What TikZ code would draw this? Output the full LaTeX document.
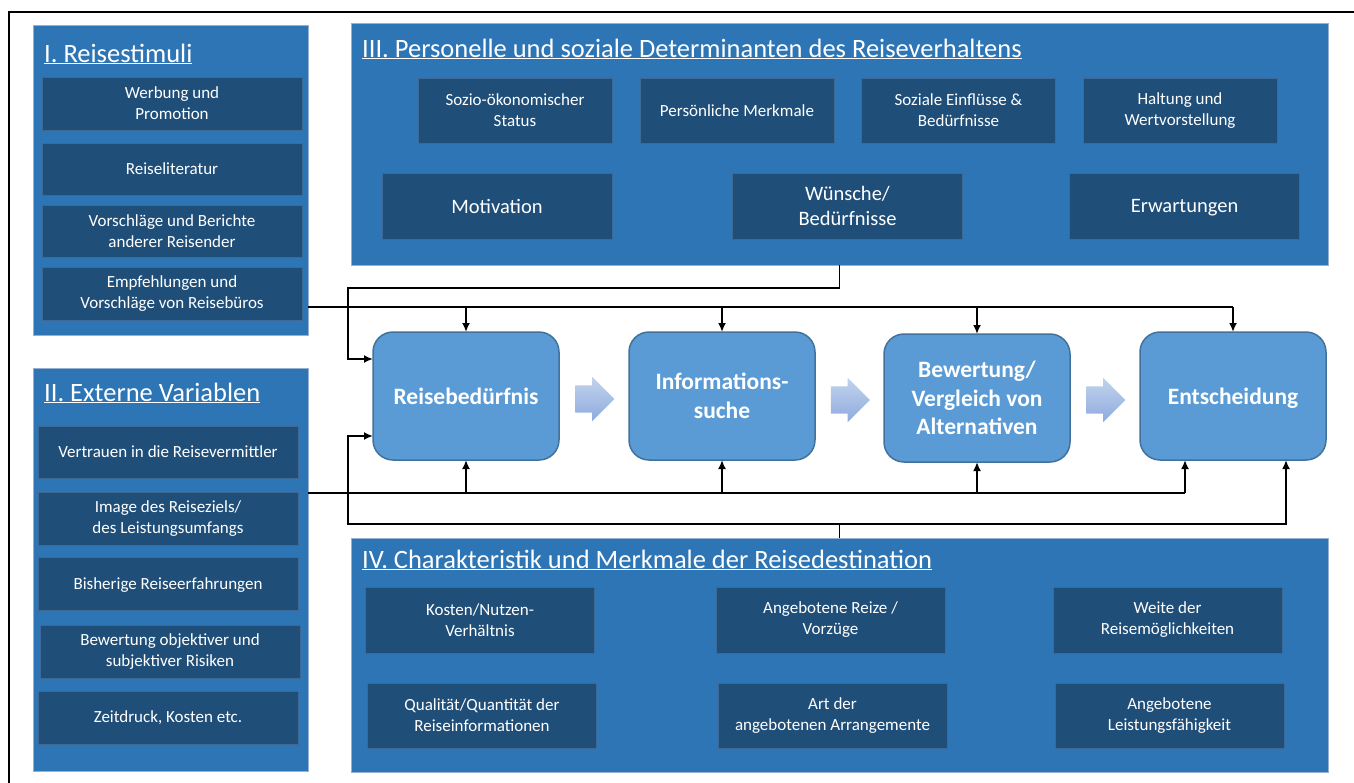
\documentclass[tikz,border=0pt]{standalone}
\usepackage{fontspec}
\setmainfont{Carlito}
\usepackage{tikz}
\usetikzlibrary{calc,arrows.meta,shapes.arrows}
\definecolor{outerBlue}{RGB}{46, 117, 182}
\definecolor{outerEdge}{RGB}{150, 176, 210}
\definecolor{innerBlue}{RGB}{31, 78, 121}
\definecolor{innerEdge}{RGB}{62, 104, 150}
\definecolor{procBlue}{RGB}{91, 155, 213}
\definecolor{procEdge}{RGB}{65, 113, 156}
\definecolor{arrTop}{RGB}{194, 211, 238}
\definecolor{arrBot}{RGB}{143, 170, 220}
\newcommand{\flatline}[1]{\raisebox{0pt}[\height][0pt]{#1}}

\begin{document}
\begin{tikzpicture}[x=1pt, y=-1pt,
    outerbox/.style={fill=outerBlue, draw=outerEdge, line width=0.8pt, inner sep=0, outer sep=0},
    innerbox/.style={fill=innerBlue, draw=innerEdge, line width=1pt, text=white, align=center,
        inner sep=0, outer sep=0, font=\fontsize{17}{21}\selectfont},
    bigbox/.style={innerbox, minimum width=230pt, minimum height=66pt, font=\fontsize{20.5}{25}\selectfont},
    title/.style={text=white, anchor=base west, inner sep=0, font=\fontsize{26.5}{32}\selectfont},
    stepbox/.style={fill=procBlue, draw=procEdge, line width=1.5pt, rounded corners=20pt, text=white,
        align=center, minimum width=186pt, minimum height=128pt, inner sep=0, outer sep=0,
        font=\fontsize{23.5}{28.5}\selectfont\bfseries},
    flowarrow/.style={single arrow, inner xsep=0pt, inner ysep=13.5pt, minimum height=39pt,
        single arrow head extend=8.5pt, single arrow head indent=0pt,
        top color=arrTop, bottom color=arrBot, draw=none},
    line/.style={line width=1.8pt, draw=black},
    arr/.style={line, -{Latex[length=9pt, width=8pt]}}]
    \useasboundingbox (0,0) rectangle (1354,782);
    \draw[line width=2pt] (9,12) rectangle (1420,820);

    % I. Reisestimuli
    \node[outerbox, minimum width=275pt, minimum height=310pt] (boxI) at (170.5,180) {};
    \node[title] (tI) at (44,62) {\underline{I. Reisestimuli}};
    \node[innerbox, minimum width=260pt, minimum height=53pt] (werb) at (172,103.5) {Werbung und\\Promotion};
    \node[innerbox, minimum width=260pt, minimum height=52pt] (lit) at (172,169) {Reiseliteratur};
    \node[innerbox, minimum width=260pt, minimum height=52pt] (vorsch) at (172,231) {Vorschläge und Berichte\\anderer Reisender};
    \node[innerbox, minimum width=260pt, minimum height=53pt] (empf) at (172,293.5) {Empfehlungen und\\Vorschläge von Reisebüros};

    % II. Externe Variablen
    \node[outerbox, minimum width=275pt, minimum height=403pt] (boxII) at (170.5,569.5) {};
    \node[title] (tII) at (44,401) {\underline{II. Externe Variablen}};
    \node[innerbox, minimum width=260pt, minimum height=52pt] (vertr) at (168,452) {Vertrauen in die Reisevermittler};
    \node[innerbox, minimum width=260pt, minimum height=53pt] (image) at (168,518.5) {Image des Reiseziels/\\des Leistungsumfangs};
    \node[innerbox, minimum width=260pt, minimum height=53pt] (bish) at (168,583.5) {\flatline{Bisherige Reiseerfahrungen}};
    \node[innerbox, minimum width=260pt, minimum height=53pt] (risk) at (170,651.5) {Bewertung objektiver und\\subjektiver Risiken};
    \node[innerbox, minimum width=260pt, minimum height=53pt] (zeit) at (168,717.5) {Zeitdruck, Kosten etc.};

    % III. Personelle und soziale Determinanten
    \node[outerbox, minimum width=977pt, minimum height=242pt] (boxIII) at (839.5,144) {};
    \node[title] (tIII) at (362,57) {\underline{III. Personelle und soziale Determinanten des Reiseverhaltens}};
    \node[innerbox, minimum width=194pt, minimum height=65pt] (sozio) at (515,110.5) {Sozio-ökonomischer\\Status};
    \node[innerbox, minimum width=194pt, minimum height=65pt] (pers) at (737,110.5) {Persönliche Merkmale};
    \node[innerbox, minimum width=194pt, minimum height=65pt] (sozial) at (958.5,110.5) {Soziale Einflüsse \&\\Bedürfnisse};
    \node[innerbox, minimum width=194pt, minimum height=65pt] (haltung) at (1180,110.5) {Haltung und\\Wertvorstellung};
    \node[bigbox] (motiv) at (497,206) {Motivation};
    \node[bigbox] (wish) at (847.5,206) {Wünsche/\\Bedürfnisse};
    \node[bigbox] (erw) at (1184.5,206) {\flatline{Erwartungen}};

    % IV. Charakteristik der Reisedestination
    \node[outerbox, minimum width=977pt, minimum height=234pt] (boxIV) at (839.5,655) {};
    \node[title] (tIV) at (362,568) {\underline{IV. Charakteristik und Merkmale der Reisedestination}};
    \node[innerbox, minimum width=229pt, minimum height=66pt] (kost) at (480,620) {Kosten/Nutzen-\\Verhältnis};
    \node[innerbox, minimum width=229pt, minimum height=66pt] (reize) at (830.5,620) {Angebotene Reize /\\Vorzüge};
    \node[innerbox, minimum width=229pt, minimum height=66pt] (weite) at (1167.5,620) {Weite der\\Reisemöglichkeiten};
    \node[innerbox, minimum width=229pt, minimum height=65pt] (qual) at (482,715.5) {Qualität/Quantität der\\Reiseinformationen};
    \node[innerbox, minimum width=229pt, minimum height=65pt] (art) at (832.5,715.5) {Art der\\angebotenen Arrangemente};
    \node[innerbox, minimum width=229pt, minimum height=65pt] (leist) at (1169.5,715.5) {Angebotene\\Leistungsfähigkeit};

    % Entscheidungsprozess
    \node[stepbox] (need) at (466,396) {Reisebedürfnis};
    \node[stepbox] (search) at (722,396) {Informations-\\suche};
    \node[stepbox] (eval) at (977,398) {Bewertung/\\Vergleich von\\Alternativen};
    \node[stepbox] (decide) at (1233,396) {\flatline{Entscheidung}};
    \node[flowarrow] (a1) at ($(need.east)!0.5!(search.west)+(-6,3)$) {};
    \node[flowarrow] (a2) at ($(search.east)!0.5!(eval.west)+(-6,3)$) {};
    \node[flowarrow] (a3) at ($(eval.east)!0.5!(decide.west)+(-6,3)$) {};

    % Einflusslinien
    \draw[line] (boxI.east |- 0,307) -- (decide.north |- 0,307);
    \foreach \n in {need,search,eval,decide}
        \draw[arr] (\n.north |- 0,307) -- (\n.north);
    \draw[line] (boxII.east |- 0,493) -- (1185,493);
    \foreach \n in {need,search,eval}
        \draw[arr] (\n.south |- 0,493) -- (\n.south);
    \draw[arr] (1185,493) -- ($(decide.south)+(-48,0)$);
    \draw[arr] (boxIII.south) |- (348,288) |- ($(need.west)+(0,-37)$);
    \draw[arr] (boxIV.north) |- (348,524) |- ($(need.west)+(0,40)$);
    \draw[arr] (boxIV.north |- 0,524) -| ($(decide.south)+(53,0)$);
\end{tikzpicture}
\end{document}
